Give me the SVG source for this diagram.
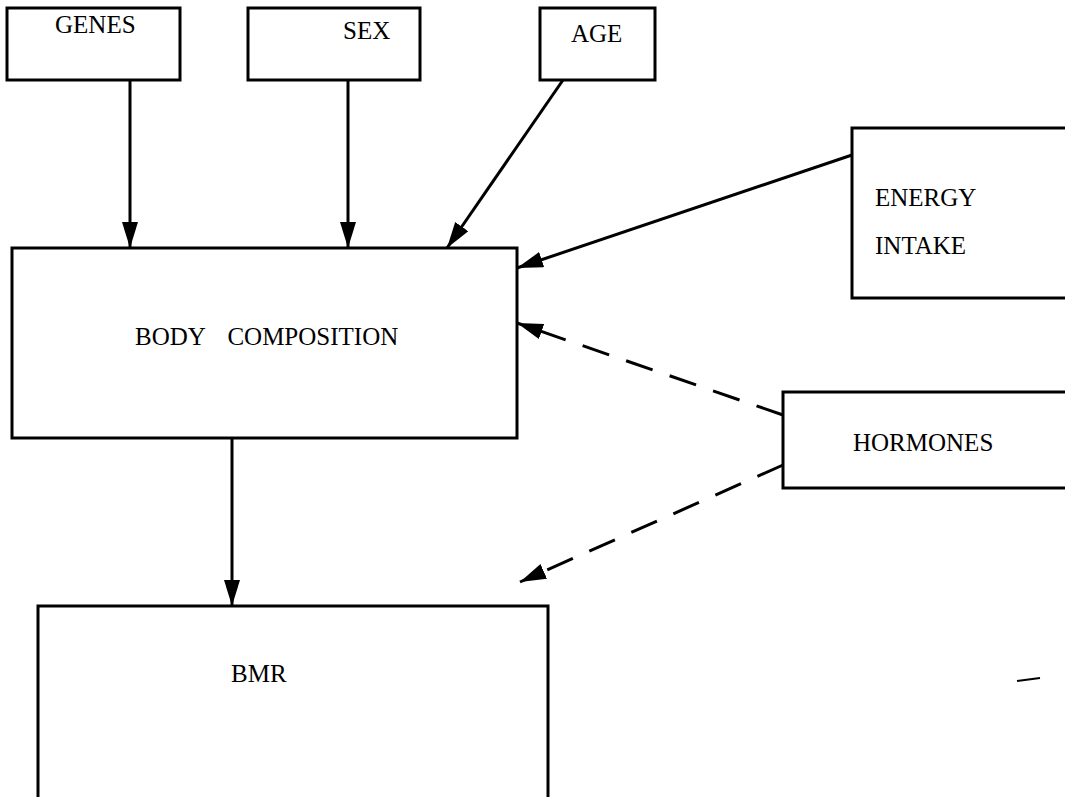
<svg xmlns="http://www.w3.org/2000/svg" width="1065" height="797" viewBox="0 0 1065 797">
<style>
.box{fill:#fff;stroke:#000;stroke-width:3}
.lbl{font-family:"Liberation Serif","Times New Roman",serif;font-size:25px;fill:#000;white-space:pre}
.arr{stroke:#000;stroke-width:3;fill:none;marker-end:url(#ah)}
.dash{stroke-dasharray:28,18}
</style>
<defs>
<marker id="ah" markerUnits="userSpaceOnUse" markerWidth="28" markerHeight="18" refX="26" refY="8" orient="auto">
<path d="M0,0 L26,8 L0,16 Z" fill="#000"/>
</marker>
</defs>
<rect width="1065" height="797" fill="#fff"/>
<g id="connectors">
<line class="arr" x1="130" y1="80" x2="130" y2="248"/>
<line class="arr" x1="348" y1="80" x2="348" y2="248"/>
<line class="arr" x1="563" y1="80" x2="447" y2="248"/>
<line class="arr" x1="852" y1="155" x2="517" y2="268"/>
<line class="arr dash" x1="783" y1="415" x2="517" y2="323"/>
<line class="arr dash" x1="783" y1="465" x2="520" y2="582"/>
<line class="arr" x1="232" y1="438" x2="232" y2="606"/>
</g>
<g id="genes"><rect class="box" x="7" y="8" width="173" height="72"/><text class="lbl" x="55" y="33">GENES</text></g>
<g id="sex"><rect class="box" x="248" y="8" width="172" height="72"/><text class="lbl" x="343" y="39">SEX</text></g>
<g id="age"><rect class="box" x="540" y="8" width="115" height="72"/><text class="lbl" x="571" y="42">AGE</text></g>
<g id="energy"><rect class="box" x="852" y="128" width="220" height="170"/><text class="lbl" x="875" y="206">ENERGY</text><text class="lbl" x="875" y="254">INTAKE</text></g>
<g id="body"><rect class="box" x="12" y="248" width="505" height="190"/><text class="lbl" x="135" y="345" word-spacing="5">BODY  COMPOSITION</text></g>
<g id="hormones"><rect class="box" x="783" y="392" width="290" height="96"/><text class="lbl" x="853" y="451">HORMONES</text></g>
<g id="bmr"><rect class="box" x="38" y="606" width="510" height="200"/><text class="lbl" x="231" y="682">BMR</text></g>
<line x1="1017" y1="681" x2="1040" y2="678" stroke="#000" stroke-width="2"/>
</svg>
